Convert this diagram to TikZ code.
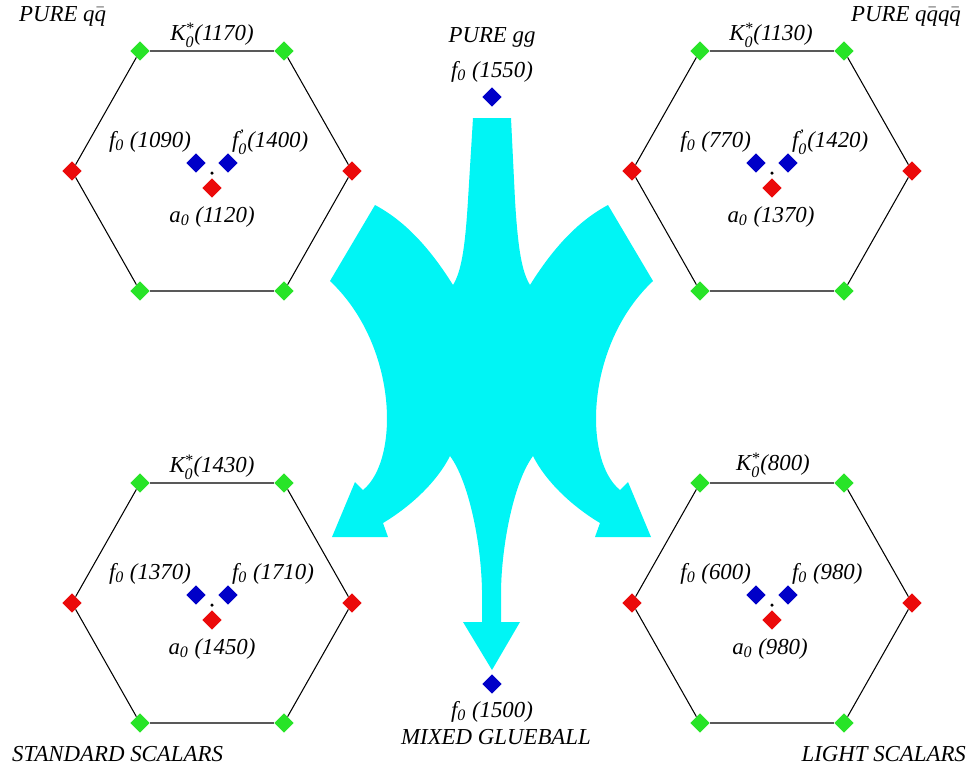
\documentclass[tikz,border=0pt]{standalone}
\usepackage{amsmath}
\usepackage{fontspec}
\setmainfont{Liberation Serif}
\usepackage{tikz}
\usetikzlibrary{shapes.geometric}

\definecolor{flowcyan}{RGB}{0,245,245}
\definecolor{kgreen}{RGB}{40,228,40}
\definecolor{ared}{RGB}{235,10,10}
\definecolor{fblue}{RGB}{0,0,200}

\newcommand{\fz}{f\ensuremath{_{\text{0}}}}
\newcommand{\fpz}{f\ensuremath{^{\text{'}}_{\text{0}}}}
\newcommand{\az}{a\ensuremath{_{\text{0}}}}
\newcommand{\Kz}{K\ensuremath{^{\text{*}}_{\text{0}}}}
\newcommand{\qb}{\ensuremath{\bar{\text{q}}}}

\begin{document}
\begin{tikzpicture}[x=0.02cm, y=-0.02cm,
	every node/.style={font=\fontsize{13}{15}\selectfont\itshape},
	meson/.style={diamond, fill=#1, draw=none, inner sep=0pt, minimum width=0.39cm, minimum height=0.39cm},
	txt/.style={inner sep=1pt}]
	\useasboundingbox (0,0) rectangle (974,769);

	% flow of mixing
	\fill[flowcyan] (473,118) -- (511,118) -- (515,200) .. controls (518,250) and (522,272) .. (530,285)
		.. controls (555,245) and (580,220) .. (608,205) -- (653,281)
		.. controls (585,345) and (583,460) .. (620,490)
		-- (628,482) -- (651,537) -- (595,537) -- (600,523)
		.. controls (570,505) and (545,480) .. (533,456)
		.. controls (515,480) and (502,540) .. (501,590) -- (501,622) -- (520,622) -- (492,670) -- (463,622) -- (482,622) -- (482,590)
		.. controls (481,540) and (468,480) .. (450,456)
		.. controls (438,480) and (413,505) .. (383,523)
		-- (388,537) -- (332,537) -- (355,482) -- (363,490)
		.. controls (400,460) and (398,345) .. (330,281)
		-- (375,205)
		.. controls (403,220) and (428,245) .. (453,285)
		.. controls (461,272) and (465,250) .. (468,200) -- cycle;

	% nonets
	\foreach \h/\cx/\cy in {tl/212/171, tr/772/171, bl/212/603, br/772/603} {
		\node[meson=kgreen] (\h1) at (\cx-72,\cy-120) {};
		\node[meson=kgreen] (\h2) at (\cx+72,\cy-120) {};
		\node[meson=ared] (\h3) at (\cx+140,\cy) {};
		\node[meson=kgreen] (\h4) at (\cx+72,\cy+120) {};
		\node[meson=kgreen] (\h5) at (\cx-72,\cy+120) {};
		\node[meson=ared] (\h6) at (\cx-140,\cy) {};
		\node[meson=fblue] (\h7) at (\cx-16,\cy-8) {};
		\node[meson=fblue] (\h8) at (\cx+16,\cy-8) {};
		\node[meson=ared] (\h9) at (\cx,\cy+17) {};
		\node[circle, fill=black, inner sep=0pt, minimum size=0.07cm] (\h0) at (\cx,\cy+2) {};
		\draw[line width=0.6pt] (\h1) -- (\h2) -- (\h3) -- (\h4) -- (\h5) -- (\h6) -- (\h1);
	}

	\node[meson=fblue] (gg) at (492,97) {};
	\node[meson=fblue] (mix) at (492,684) {};

	\node[txt] (tlK) at (212,35) {\Kz(1170)};
	\node[txt, anchor=east] (tlfl) at (193,142) {\fz\ (1090)};
	\node[txt, anchor=west] (tlfr) at (230,142) {\fpz(1400)};
	\node[txt] (tla) at (212,217) {\az\ (1120)};

	\node[txt] (trK) at (771,35) {\Kz(1130)};
	\node[txt, anchor=east] (trfl) at (753,142) {\fz\ (770)};
	\node[txt, anchor=west] (trfr) at (790,142) {\fpz(1420)};
	\node[txt] (tra) at (771,217) {\az\ (1370)};

	\node[txt] (blK) at (212,467) {\Kz(1430)};
	\node[txt, anchor=east] (blfl) at (193,574) {\fz\ (1370)};
	\node[txt, anchor=west] (blfr) at (230,574) {\fz\ (1710)};
	\node[txt] (bla) at (212,649) {\az\ (1450)};

	\node[txt] (brK) at (773,465) {\Kz(800)};
	\node[txt, anchor=east] (brfl) at (753,574) {\fz\ (600)};
	\node[txt, anchor=west] (brfr) at (790,574) {\fz\ (980)};
	\node[txt] (bra) at (770,649) {\az\ (980)};

	\node[txt] (ggname) at (492,37) {PURE gg};
	\node[txt] (ggf) at (492,72) {\fz\ (1550)};
	\node[txt] (mixf) at (492,712) {\fz\ (1500)};
	\node[txt] (mixname) at (496,737) {MIXED GLUEBALL};

	\node[txt, anchor=west] (qq) at (17,16) {PURE q\qb};
	\node[txt, anchor=east] (qqqq) at (963,16) {PURE q\qb q\qb};
	\node[txt, anchor=west] (std) at (10,754) {STANDARD SCALARS};
	\node[txt, anchor=east] (light) at (968,754) {LIGHT SCALARS};
\end{tikzpicture}
\end{document}
